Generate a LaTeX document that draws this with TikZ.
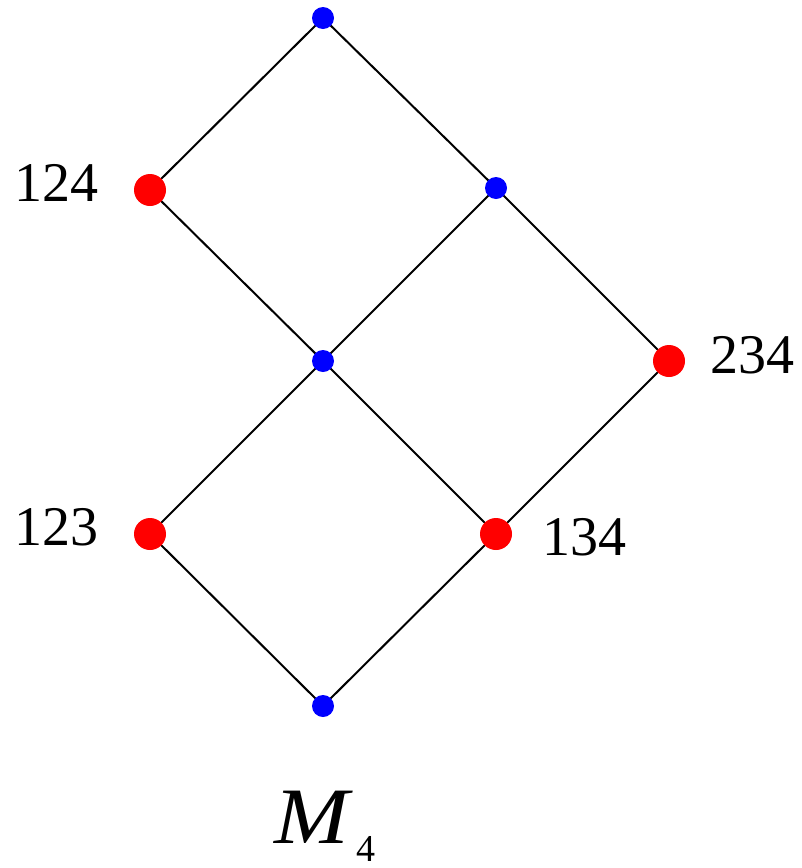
\documentclass[tikz,border=0pt]{standalone}
\usepackage{fontspec}
\setmainfont{Liberation Serif}
\begin{document}
\begin{tikzpicture}[x=1pt,y=-1pt,
  reddot/.style={circle,fill=red,draw=none,minimum size=32pt,inner sep=0pt},
  bluedot/.style={circle,fill=blue,draw=none,minimum size=22pt,inner sep=0pt},
  edge/.style={line width=2pt,black},
  lbl/.style={inner sep=0pt,anchor=base west,font=\fontsize{56}{60}\selectfont}]
\useasboundingbox (0,0) rectangle (802,868);
\coordinate (top) at (323,18);
\coordinate (a124) at (150,190);
\coordinate (r) at (496,188);
\coordinate (c) at (323,361);
\coordinate (a234) at (669,361);
\coordinate (a123) at (150,534);
\coordinate (a134) at (496,534);
\coordinate (bot) at (323,706);
\draw[edge] (top) -- (a124);
\draw[edge] (top) -- (r);
\draw[edge] (a124) -- (c);
\draw[edge] (r) -- (c);
\draw[edge] (r) -- (a234);
\draw[edge] (c) -- (a123);
\draw[edge] (c) -- (a134);
\draw[edge] (a234) -- (a134);
\draw[edge] (a123) -- (bot);
\draw[edge] (a134) -- (bot);
\node[reddot] (d124) at (a124) {};
\node[reddot] (d234) at (a234) {};
\node[reddot] (d123) at (a123) {};
\node[reddot] (d134) at (a134) {};
\node[bluedot] (dtop) at (top) {};
\node[bluedot] (dr) at (r) {};
\node[bluedot] (dc) at (c) {};
\node[bluedot] (dbot) at (bot) {};
\node[lbl] (l124) at (14,201) {124};
\node[lbl] (l234) at (710,373) {234};
\node[lbl] (l123) at (14,545) {123};
\node[lbl] (l134) at (542,555) {134};
\node[inner sep=0pt,anchor=base west,font=\fontsize{80}{84}\selectfont\itshape] (mm) at (274,843) {\scalebox{1.12}[1]{M}};
\node[inner sep=0pt,anchor=base west,font=\fontsize{38}{40}\selectfont] (m4) at (356,861) {4};
\end{tikzpicture}
\end{document}
